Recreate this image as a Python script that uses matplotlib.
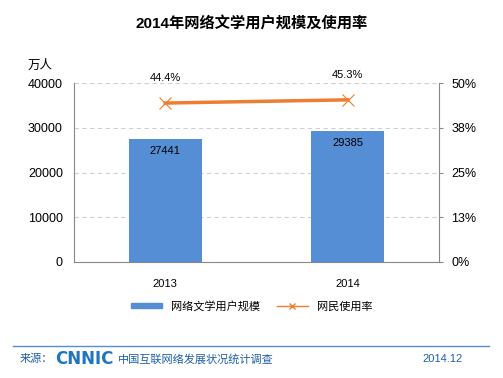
import matplotlib
matplotlib.use("Agg")
import matplotlib.pyplot as plt
from matplotlib.lines import Line2D
from matplotlib.patches import Patch

plt.rcParams['font.family'] = ['Liberation Sans', 'Noto Sans CJK SC', 'DejaVu Sans']

years = ["2013", "2014"]
users = [27441, 29385]
rates = [0.444, 0.453]
rate_labels = ["44.4%", "45.3%"]
left_ticks = [0, 10000, 20000, 30000, 40000]
right_ticks = [0, 0.125, 0.25, 0.375, 0.5]
right_tick_labels = ["0%", "13%", "25%", "38%", "50%"]

W, H = 503, 378
fig = plt.figure(figsize=(W / 100, H / 100), dpi=100)

ax = fig.add_axes([74 / W, 1 - 262 / H, (439 - 74) / W, (262 - 83) / H])
x = list(range(len(years)))
ax.bar(x, users, width=0.4, color="#558ED5", zorder=2)
ax.set_xlim(-0.5, 1.5)
ax.set_ylim(0, 40000)
ax.set_yticks(left_ticks)
ax.set_yticklabels([str(v) for v in left_ticks], fontsize=9)
ax.set_xticks(x)
ax.set_xticklabels(years, fontsize=8)
ax.tick_params(axis="x", length=0, pad=12)
ax.tick_params(axis="y", length=0, pad=8)
ax.yaxis.grid(True, color="#d0d0d0", linestyle=(0, (4, 3)), linewidth=0.8)
ax.set_axisbelow(True)
for s in ["top", "right"]:
    ax.spines[s].set_visible(False)
for s in ["left", "bottom"]:
    ax.spines[s].set_color("#888888")
for xi, v in zip(x, users):
    ax.text(xi, v - 2700, str(v), ha="center", va="center", fontsize=8)

ax2 = ax.twinx()
ax2.plot(x, rates, color="#ED7D31", linewidth=2.5, marker="x", markersize=8,
         markeredgewidth=0.8, zorder=3)
ax2.set_ylim(0, 0.5)
ax2.set_yticks(right_ticks)
ax2.set_yticklabels(right_tick_labels, fontsize=9)
ax2.tick_params(axis="y", length=3, color="#888888", pad=6)
for s in ["top", "left", "bottom"]:
    ax2.spines[s].set_visible(False)
ax2.spines["right"].set_color("#888888")
for xi, v, lab in zip(x, rates, rate_labels):
    ax2.text(xi, v + 0.07, lab, ha="center", va="center", fontsize=8)

fig.text(0.5, 1 - 24 / H, "2014年网络文学用户规模及使用率", ha="center", va="center",
         fontsize=11, fontweight="bold")
fig.text(40 / W, 1 - 66 / H, "万人", ha="center", va="center", fontsize=9)

handles = [Patch(color="#558ED5"),
           Line2D([0], [0], color="#ED7D31", marker="x", markersize=5, linewidth=1)]
fig.legend(handles, ["网络文学用户规模", "网民使用率"], loc="center",
           bbox_to_anchor=(0.5, 1 - 306 / H), ncol=2, frameon=False, fontsize=8,
           handlelength=2.8, handleheight=0.35, columnspacing=1.5)

fig.add_artist(Line2D([13 / W, 489 / W], [1 - 346 / H, 1 - 346 / H], color="#558ED5", linewidth=1))
fig.text(20 / W, 1 - 359 / H, "来源：", color="#1F5FA8", fontsize=8, va="center")
fig.text(55 / W, 1 - 359 / H, "CNNIC", color="#1F75C0", fontsize=12, fontweight="bold",
         va="center", family="DejaVu Sans")
fig.text(118 / W, 1 - 359 / H, "中国互联网络发展状况统计调查", color="#1F5FA8", fontsize=8, va="center")
fig.text(463 / W, 1 - 359 / H, "2014.12", color="#1F5FA8", fontsize=8, va="center", ha="right")

fig.savefig("out.png", dpi=100)
